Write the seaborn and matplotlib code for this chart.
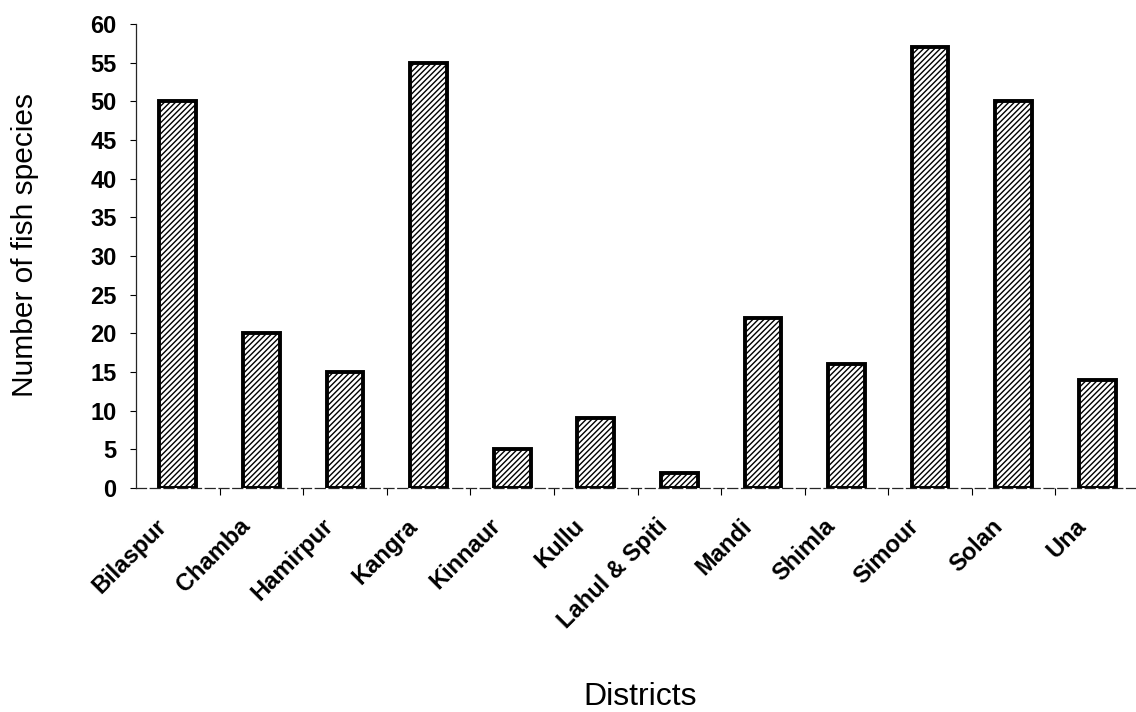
import matplotlib
matplotlib.use("Agg")
import matplotlib.pyplot as plt
import matplotlib.transforms as mtransforms
import seaborn as sns
import pandas as pd

# データ
districts = ["Bilaspur", "Chamba", "Hamirpur", "Kangra", "Kinnaur", "Kullu",
             "Lahul & Spiti", "Mandi", "Shimla", "Simour", "Solan", "Una"]
species = [50, 20, 15, 55, 5, 9, 2, 22, 16, 57, 50, 14]
yticks = list(range(0, 61, 5))

df = pd.DataFrame({"district": districts, "species": species})

sns.set_style("white")
plt.rcParams["font.family"] = ["Liberation Sans", "DejaVu Sans"]
plt.rcParams["hatch.linewidth"] = 1.0
plt.rcParams["text.color"] = "black"
plt.rcParams["axes.labelcolor"] = "black"
plt.rcParams["xtick.color"] = "black"
plt.rcParams["ytick.color"] = "black"

fig = plt.figure(figsize=(11.36, 7.12), dpi=100)
ax = fig.add_axes([0.1197, 0.3146, 0.883, 0.6517])

sns.barplot(data=df, x="district", y="species", color="white",
            edgecolor="black", linewidth=2.8, width=0.44, ax=ax)
for p in ax.patches:
    p.set_hatch("//////")

ax.set_xlim(-0.5, 11.5)
ax.set_ylim(0, 60)
ax.set_yticks(yticks)
ax.set_yticklabels([str(v) for v in yticks], fontsize=17, fontweight="bold")
ax.set_xticks(range(len(districts)))
ax.set_xticklabels(districts, rotation=45, ha="right", va="top",
                   rotation_mode="anchor", fontsize=17, fontweight="bold")
ax.set_xticks([i + 0.5 for i in range(len(districts) - 1)], minor=True)
ax.tick_params(axis="y", length=4, width=0.8, direction="out", left=True, pad=10)
ax.tick_params(axis="x", which="major", length=0, pad=19)
ax.tick_params(axis="x", which="minor", length=5, width=0.8, direction="out", bottom=True)

# ラベルを左へずらす (tick_params の後で)
shift = mtransforms.ScaledTranslation(-23 / 100, 0, fig.dpi_scale_trans)
for lab in ax.get_xticklabels():
    lab.set_transform(lab.get_transform() + shift)

for s in ["top", "right"]:
    ax.spines[s].set_visible(False)
ax.spines["left"].set_linewidth(0.9)
ax.spines["bottom"].set_linewidth(0.9)
ax.spines["bottom"].set_linestyle((0, (8, 3)))

ax.set_xlabel("Districts", fontsize=23, va="baseline")
ax.xaxis.set_label_coords(0.503, -0.468)
ax.set_ylabel("Number of fish species", fontsize=21.5, va="center")
ax.yaxis.set_label_coords(-0.111, 0.524)

fig.savefig("out.png", dpi=100)
